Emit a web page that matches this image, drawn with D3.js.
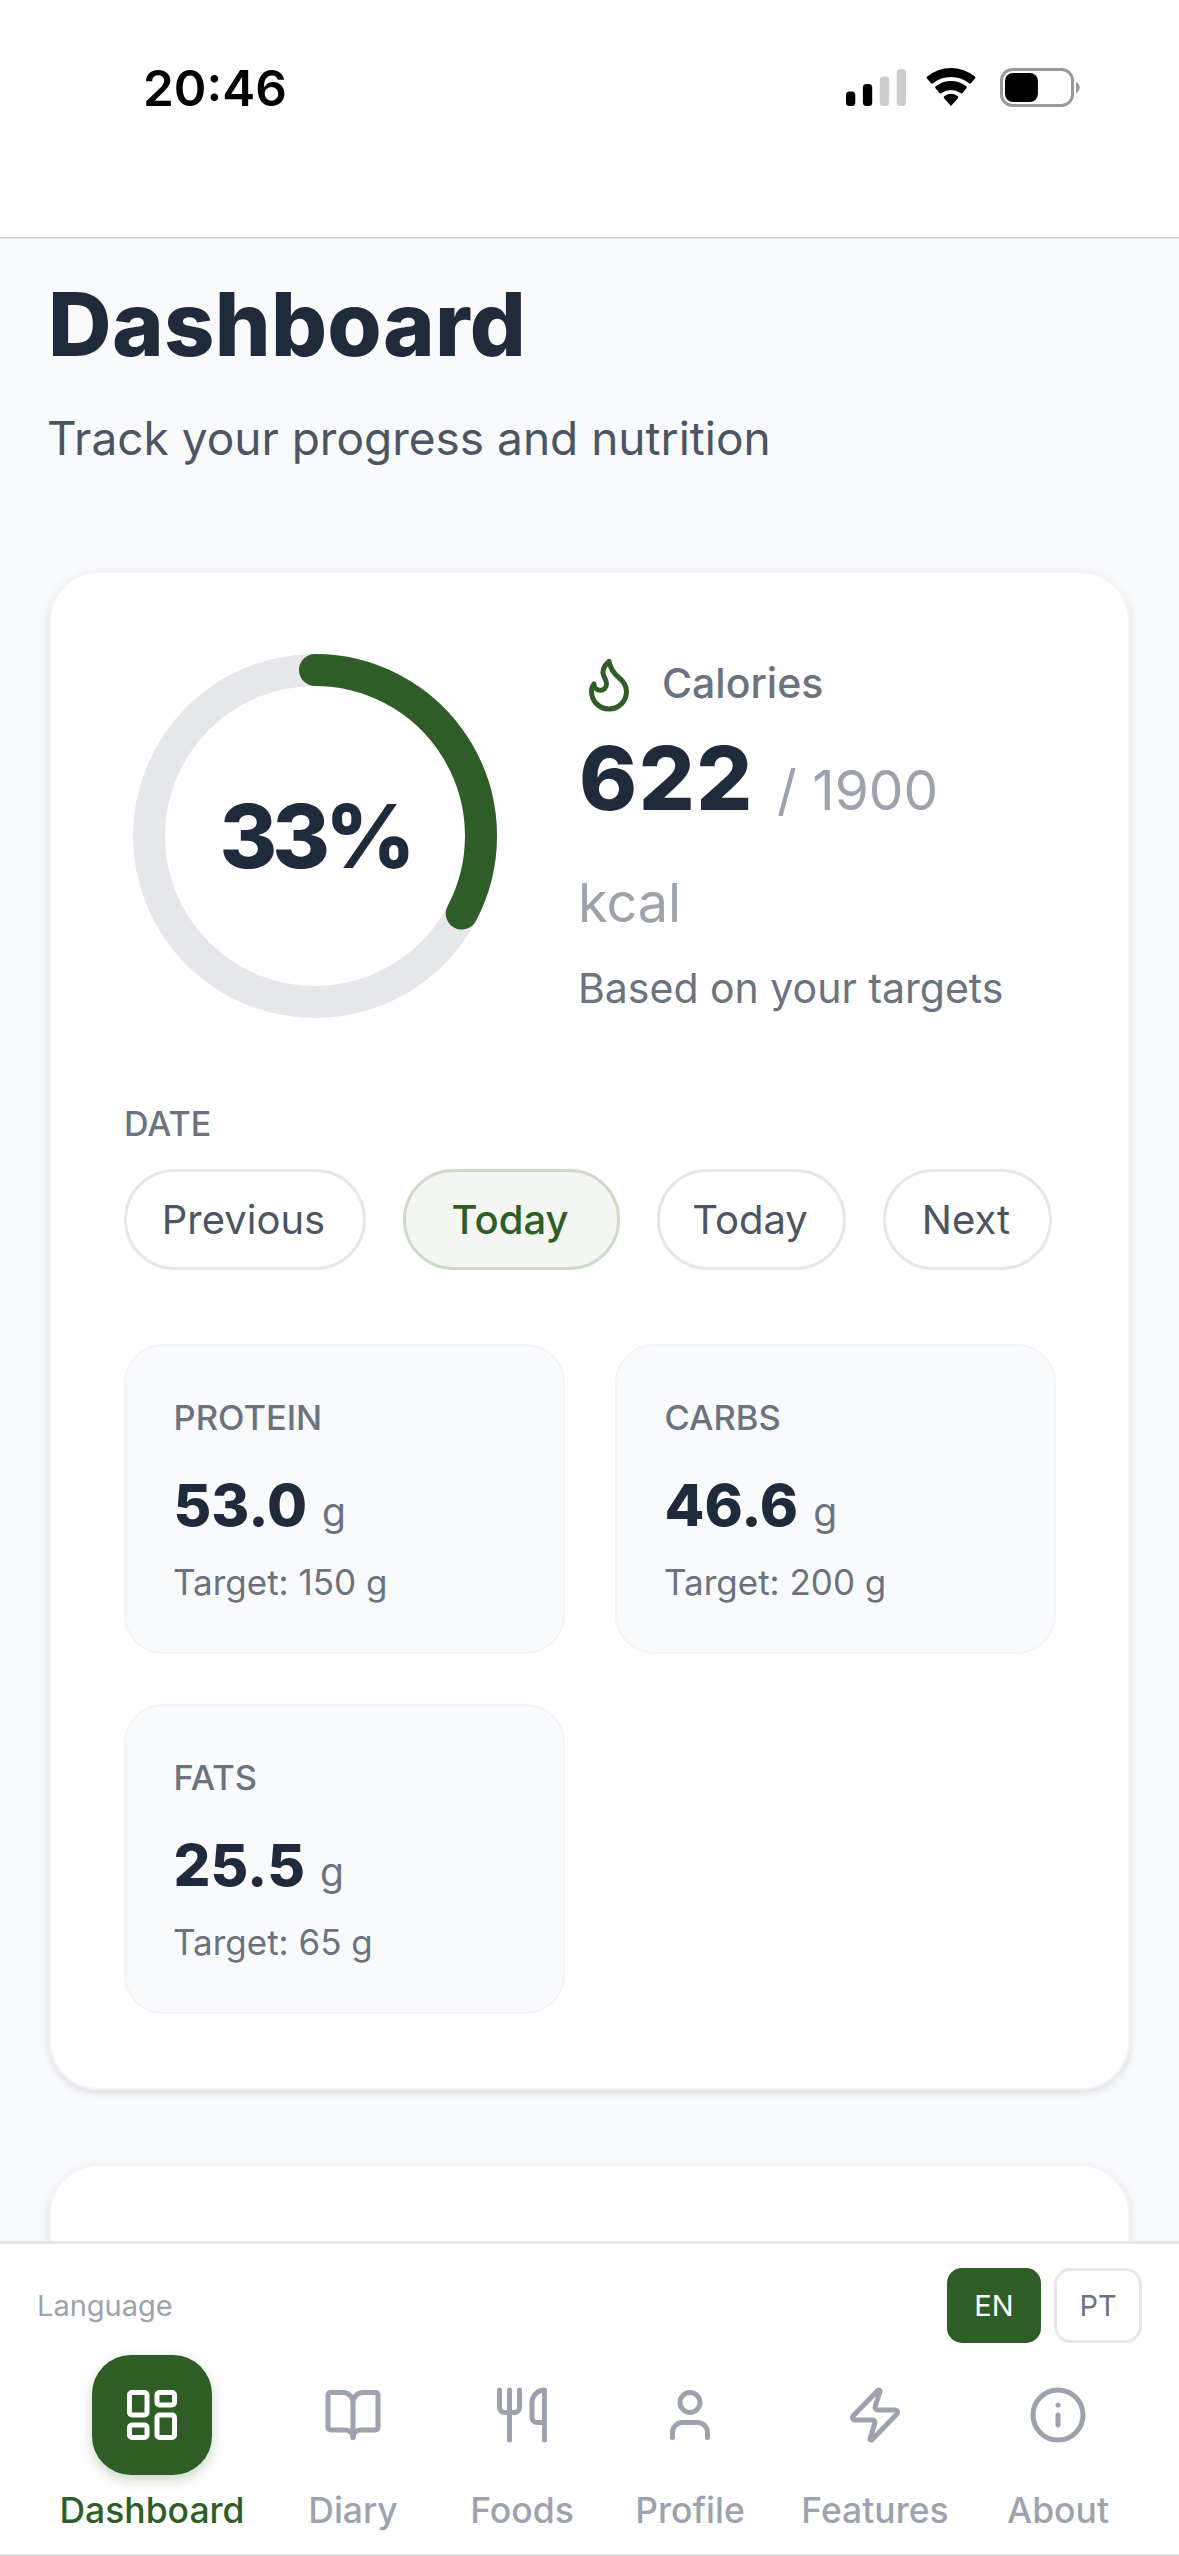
<!DOCTYPE html>
<html>
<head>
<meta charset="utf-8">
<title>Dashboard</title>
<script src="https://cdn.jsdelivr.net/npm/d3@7"></script>
<style>
  html, body { margin: 0; padding: 0; background: #f9fafb; }
  svg { display: block; font-family: Inter, "Noto Sans", sans-serif; }
  .icon { fill: none; stroke-width: 2; stroke-linecap: round; stroke-linejoin: round; }
</style>
</head>
<body>
<div id="screen"></div>
<script>
// data
const caloriesEaten = 622;
const caloriesTarget = 1900;
const dateLabels = ['Previous', 'Today', 'Today', 'Next'];
const macroNames = ['PROTEIN', 'CARBS', 'FATS'];
const macroValues = [53.0, 46.6, 25.5];
const macroTargets = [150, 200, 65];
const navLabels = ['Dashboard', 'Diary', 'Foods', 'Profile', 'Features', 'About'];
const languages = ['EN', 'PT'];
const signalBars = [1, 2, 3, 4];
const signalActive = 2;
const batteryLevel = 0.47;

const green = '#2f5d27', ink = '#1f2a3a', gray = '#6b7280', soft = '#9ca3af', slate = '#4b5563', line = '#e5e7eb';

// lucide style icons on a 24 box
const iconShapes = {
  flame: [['path', {d: 'M8.5 14.5A2.5 2.5 0 0 0 11 12c0-1.38-.5-2-1-3-1.072-2.143-.224-4.054 2-6 .5 2.5 2 4.9 4 6.5 2 1.6 3 3.5 3 5.5a7 7 0 1 1-14 0c0-1.153.433-2.294 1-3a2.5 2.5 0 0 0 2.5 2.5z'}]],
  Dashboard: [['rect', {x: 3, y: 3, width: 7, height: 9, rx: 1}], ['rect', {x: 14, y: 3, width: 7, height: 5, rx: 1}], ['rect', {x: 14, y: 12, width: 7, height: 9, rx: 1}], ['rect', {x: 3, y: 16, width: 7, height: 5, rx: 1}]],
  Diary: [['path', {d: 'M12 7v14'}], ['path', {d: 'M3 18a1 1 0 0 1-1-1V4a1 1 0 0 1 1-1h5a4 4 0 0 1 4 4 4 4 0 0 1 4-4h5a1 1 0 0 1 1 1v13a1 1 0 0 1-1 1h-6a3 3 0 0 0-3 3 3 3 0 0 0-3-3z'}]],
  Foods: [['path', {d: 'M3 2v7c0 1.1.9 2 2 2h4a2 2 0 0 0 2-2V2'}], ['path', {d: 'M7 2v20'}], ['path', {d: 'M21 15V2a5 5 0 0 0-5 5v6c0 1.1.9 2 2 2h3Zm0 0v7'}]],
  Profile: [['path', {d: 'M19 21v-2a4 4 0 0 0-4-4H9a4 4 0 0 0-4 4v2'}], ['circle', {cx: 12, cy: 7, r: 4}]],
  Features: [['path', {d: 'M4 14a1 1 0 0 1-.78-1.63l9.9-10.2a.5.5 0 0 1 .86.46l-1.92 6.02A1 1 0 0 0 13 10h7a1 1 0 0 1 .78 1.63l-9.9 10.2a.5.5 0 0 1-.86-.46l1.92-6.02A1 1 0 0 0 11 14z'}]],
  About: [['circle', {cx: 12, cy: 12, r: 10}], ['path', {d: 'M12 16v-4'}], ['path', {d: 'M12 8h.01'}]]
};

const svg = d3.select('#screen').append('svg')
  .attr('width', 1179).attr('height', 2556).attr('viewBox', '0 0 1179 2556');

const defs = svg.append('defs');
defs.append('filter').attr('id', 'cardShadow').attr('x', '-5%').attr('y', '-5%').attr('width', '110%').attr('height', '110%')
  .append('feDropShadow').attr('dx', 0).attr('dy', 3).attr('stdDeviation', 4).attr('flood-color', '#000').attr('flood-opacity', 0.12);
defs.append('filter').attr('id', 'navShadow').attr('x', '-20%').attr('y', '-20%').attr('width', '140%').attr('height', '140%')
  .append('feDropShadow').attr('dx', 0).attr('dy', 5).attr('stdDeviation', 6).attr('flood-color', green).attr('flood-opacity', 0.25);

function label(parent, str, x, y, size, weight, fill, anchor, spacing) {
  return parent.append('text').text(str)
    .attr('x', x).attr('y', y)
    .attr('font-size', size).attr('font-weight', weight)
    .attr('fill', fill).attr('text-anchor', anchor || 'start')
    .attr('letter-spacing', spacing || 0);
}

function icon(parent, name, cx, cy, size, color) {
  const g = parent.append('g').attr('class', 'icon').attr('stroke', color)
    .attr('transform', 'translate(' + (cx - size / 2) + ',' + (cy - size / 2) + ') scale(' + size / 24 + ')');
  iconShapes[name].forEach(function(s) {
    const el = g.append(s[0]);
    Object.keys(s[1]).forEach(function(k) { el.attr(k, s[1][k]); });
  });
}

// page
svg.append('rect').attr('width', 1179).attr('height', 2556).attr('fill', '#f9fafb');
svg.append('rect').attr('width', 1179).attr('height', 237).attr('fill', '#fff');
svg.append('rect').attr('y', 237).attr('width', 1179).attr('height', 1.5).attr('fill', '#d1d5db');

// status bar
label(svg, '20:46', 143, 106, 49.5, 600, '#000');

const signalX = d3.scaleBand().domain(signalBars).range([846, 906]).paddingInner(0.45);
const signalH = d3.scaleLinear().domain([0, 4]).range([7, 37]);
svg.append('g').selectAll('rect').data(signalBars).enter().append('rect')
  .attr('x', d => signalX(d))
  .attr('y', d => 106 - signalH(d))
  .attr('width', signalX.bandwidth())
  .attr('height', d => signalH(d))
  .attr('rx', 3.5)
  .attr('fill', d => d <= signalActive ? '#000' : '#ccc');

const wifi = svg.append('g').attr('transform', 'translate(951,106)');
[[0, 12], [16, 25], [29, 38]].forEach(function(r) {
  wifi.append('path').attr('fill', '#000')
    .attr('d', d3.arc().innerRadius(r[0]).outerRadius(r[1]).startAngle(-0.72).endAngle(0.72).cornerRadius(1.5)());
});

svg.append('rect').attr('x', 1001.5).attr('y', 69.5).attr('width', 71).attr('height', 36).attr('rx', 11)
  .attr('fill', 'none').attr('stroke', '#999').attr('stroke-width', 3);
const batteryW = d3.scaleLinear().domain([0, 1]).range([0, 70]);
svg.append('rect').attr('x', 1005).attr('y', 73).attr('width', batteryW(batteryLevel)).attr('height', 29).attr('rx', 8).attr('fill', '#000');
svg.append('path').attr('d', 'M1076 82a6 6 0 0 1 0 11z').attr('fill', '#999');

// heading
label(svg, 'Dashboard', 48, 356, 88, 800, ink, 'start', 0.3);
label(svg, 'Track your progress and nutrition', 47, 455, 46, 400, slate);

// main card
svg.append('rect').attr('x', 50).attr('y', 572).attr('width', 1079).attr('height', 1517).attr('rx', 49)
  .attr('fill', '#fff').attr('stroke', '#f3f4f6').attr('stroke-width', 2).attr('filter', 'url(#cardShadow)');

// calorie ring
const ringR = 166;
const ringAngle = d3.scaleLinear().domain([0, caloriesTarget]).range([-Math.PI / 2, Math.PI * 1.5]);
const ring = svg.append('g').attr('transform', 'translate(315,836)');
ring.append('circle').attr('r', ringR).attr('fill', 'none').attr('stroke', line).attr('stroke-width', 32);
const ringPath = d3.path();
ringPath.arc(0, 0, ringR, ringAngle(0), ringAngle(caloriesEaten));
ring.append('path').attr('d', ringPath.toString()).attr('fill', 'none')
  .attr('stroke', green).attr('stroke-width', 32).attr('stroke-linecap', 'round');
label(ring, d3.format('.0%')(caloriesEaten / caloriesTarget), 0, 32, 88, 800, ink, 'middle', -5);

// calorie text
icon(svg, 'flame', 609, 684, 60, green);
label(svg, 'Calories', 662, 698, 41, 500, gray);
label(svg, caloriesEaten, 579, 810, 88, 800, ink, 'start', 1.5);
label(svg, '/ ' + caloriesTarget, 777, 810, 55, 400, soft);
label(svg, 'kcal', 578, 922, 54, 400, soft);
label(svg, 'Based on your targets', 578, 1003, 41, 400, gray);

// date selector, boxes are not the same width for the two Today buttons
label(svg, 'DATE', 124, 1136, 34, 500, gray);
const dateBoxes = [[124, 242], [403, 217], [657, 189], [883, 169]];
dateLabels.forEach(function(d, i) {
  const active = i === 1, b = dateBoxes[i];
  const g = svg.append('g');
  g.append('rect').attr('x', b[0] + 1.5).attr('y', 1170.5).attr('width', b[1] - 3).attr('height', 98).attr('rx', 49)
    .attr('fill', active ? '#f3f6f1' : '#fff')
    .attr('stroke', active ? '#cddbc8' : line).attr('stroke-width', 3);
  label(g, d, b[0] + b[1] / 2 - 1.5, 1234, 40, active ? 500 : 400, active ? green : slate, 'middle');
});

// macro cards
const macroX = d3.scaleBand().domain([0, 1]).range([124, 1056]).paddingInner(0.1018);
const macroY = d3.scaleBand().domain([0, 1]).range([1344, 2014]).paddingInner(0.1389);
macroNames.forEach(function(name, i) {
  const x = macroX(i % 2), y = macroY(Math.floor(i / 2));
  const g = svg.append('g').attr('transform', 'translate(' + x + ',' + y + ')');
  g.append('rect').attr('x', 1).attr('y', 1).attr('width', macroX.bandwidth() - 2).attr('height', macroY.bandwidth() - 2).attr('rx', 38)
    .attr('fill', '#f9fafb').attr('stroke', '#f3f4f6').attr('stroke-width', 2);
  label(g, name, 49.5, 86, 34.5, 500, gray);
  const v = label(g, d3.format('.1f')(macroValues[i]), 49.5, 182, 58, 800, ink);
  label(g, 'g', 49.5 + v.node().getComputedTextLength() + 15, 182, 39, 400, gray);
  label(g, 'Target: ' + macroTargets[i] + ' g', 49, 251, 35, 400, gray);
});

// second card, cut off by the footer
svg.append('rect').attr('x', 50).attr('y', 2165).attr('width', 1079).attr('height', 200).attr('rx', 49)
  .attr('fill', '#fff').attr('stroke', '#f3f4f6').attr('stroke-width', 2).attr('filter', 'url(#cardShadow)');

// footer
svg.append('rect').attr('y', 2243).attr('width', 1179).attr('height', 313).attr('fill', '#fff');
svg.append('rect').attr('y', 2241).attr('width', 1179).attr('height', 3).attr('fill', line);
svg.append('rect').attr('y', 2554.5).attr('width', 1179).attr('height', 1.5).attr('fill', '#d1d5db');

label(svg, 'Language', 37, 2316, 29, 400, soft);
const langBoxes = [[947, 94], [1054, 88]];
languages.forEach(function(lang, i) {
  const on = i === 0, b = langBoxes[i];
  svg.append('rect')
    .attr('x', b[0] + (on ? 0 : 1.5)).attr('y', on ? 2268 : 2269.5)
    .attr('width', b[1] - (on ? 0 : 3)).attr('height', on ? 75 : 72).attr('rx', 15)
    .attr('fill', on ? green : '#fff').attr('stroke', on ? 'none' : line).attr('stroke-width', 3);
  label(svg, lang, b[0] + b[1] / 2, 2316, 29, 400, on ? '#fff' : gray, 'middle');
});

// bottom navigation
const navCentres = [152, 353, 522, 690, 875, 1058];
navLabels.forEach(function(name, i) {
  const active = i === 0, cx = navCentres[i];
  if (active) {
    svg.append('rect').attr('x', cx - 60).attr('y', 2355).attr('width', 120).attr('height', 120).attr('rx', 39)
      .attr('fill', green).attr('filter', 'url(#navShadow)');
  }
  icon(svg, name, cx, 2415, 60, active ? '#fff' : soft);
  label(svg, name, cx, 2523, 35.5, 500, active ? green : soft, 'middle');
});
</script>
</body>
</html>
